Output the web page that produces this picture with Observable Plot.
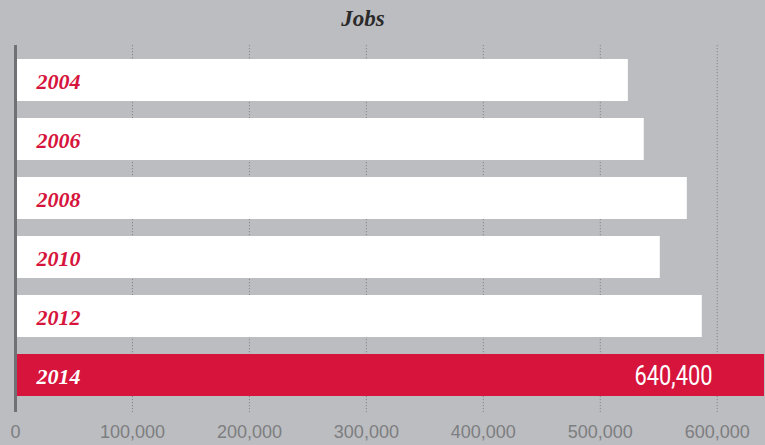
<!DOCTYPE html>
<html>
<head>
<meta charset="utf-8">
<script src="https://cdn.jsdelivr.net/npm/d3@7"></script>
<script src="https://cdn.jsdelivr.net/npm/@observablehq/plot@0.6"></script>
<style>
  html, body { margin: 0; padding: 0; background: #bcbdc1; }
  #wrap { position: relative; width: 765px; height: 445px; overflow: hidden; background: #bcbdc1; }
  #title { position: absolute; left: 0; top: 6px; width: 726px; text-align: center;
    font-family: "Liberation Serif", "DejaVu Serif", serif; font-style: italic; font-weight: bold;
    font-size: 23px; color: #2b2b2b; }
  #chart { position: absolute; left: 0; top: 0; }
</style>
</head>
<body>
<div id="wrap">
  <div id="chart"></div>
  <div id="title">Jobs</div>
</div>
<script>
const years = ["2004", "2006", "2008", "2010", "2012", "2014"];
const jobs = [524000, 537600, 574400, 551300, 587200, 640400];
const tickValues = [0, 100000, 200000, 300000, 400000, 500000, 600000];
const highlightYear = "2014";

const data = years.map((y, i) => ({year: y, jobs: jobs[i], hi: y === highlightYear}));

const chart = Plot.plot({
  width: 765,
  height: 445,
  marginLeft: 15,
  marginRight: 1,
  marginTop: 45,
  marginBottom: 33,
  style: {background: "transparent", overflow: "visible"},
  x: {domain: [0, 640400], axis: null},
  y: {domain: years, padding: 0.29, paddingOuter: 0.245, align: 0.45, axis: null},
  marks: [
    Plot.ruleX(tickValues.slice(1), {stroke: "#858585", strokeWidth: 1, strokeDasharray: "1.2,1.8"}),
    Plot.barX(data, {y: "year", x: "jobs", fill: d => d.hi ? "#d6143c" : "#ffffff"}),
    Plot.ruleX([0], {stroke: "#707174", strokeWidth: 3}),
    Plot.text(data, {y: "year", x: 0, text: "year", textAnchor: "start", dx: 21, dy: 1,
      fill: d => d.hi ? "#ffffff" : "#d6143c",
      fontFamily: "Liberation Serif, DejaVu Serif, serif", fontStyle: "italic", fontWeight: "bold", fontSize: 22}),
    Plot.text(data.filter(d => d.hi), {y: "year", x: "jobs", text: d => d3.format(",")(d.jobs),
      textAnchor: "end", dx: -52, dy: 1, fill: "#ffffff", className: "valuelabel",
      fontFamily: "Roboto, sans-serif", fontSize: 28}),
    Plot.axisX({ticks: tickValues, tickFormat: d3.format(","), tickSize: 0, tickPadding: 13, label: null,
      fontSize: 18, fontFamily: "Liberation Sans, Arial, sans-serif", fill: "#7d7e80", textStroke: "none"})
  ]
});
d3.select(chart).selectAll(".valuelabel text")
  .attr("textLength", 78)
  .attr("lengthAdjust", "spacingAndGlyphs");
document.getElementById("chart").appendChild(chart);
</script>
</body>
</html>
